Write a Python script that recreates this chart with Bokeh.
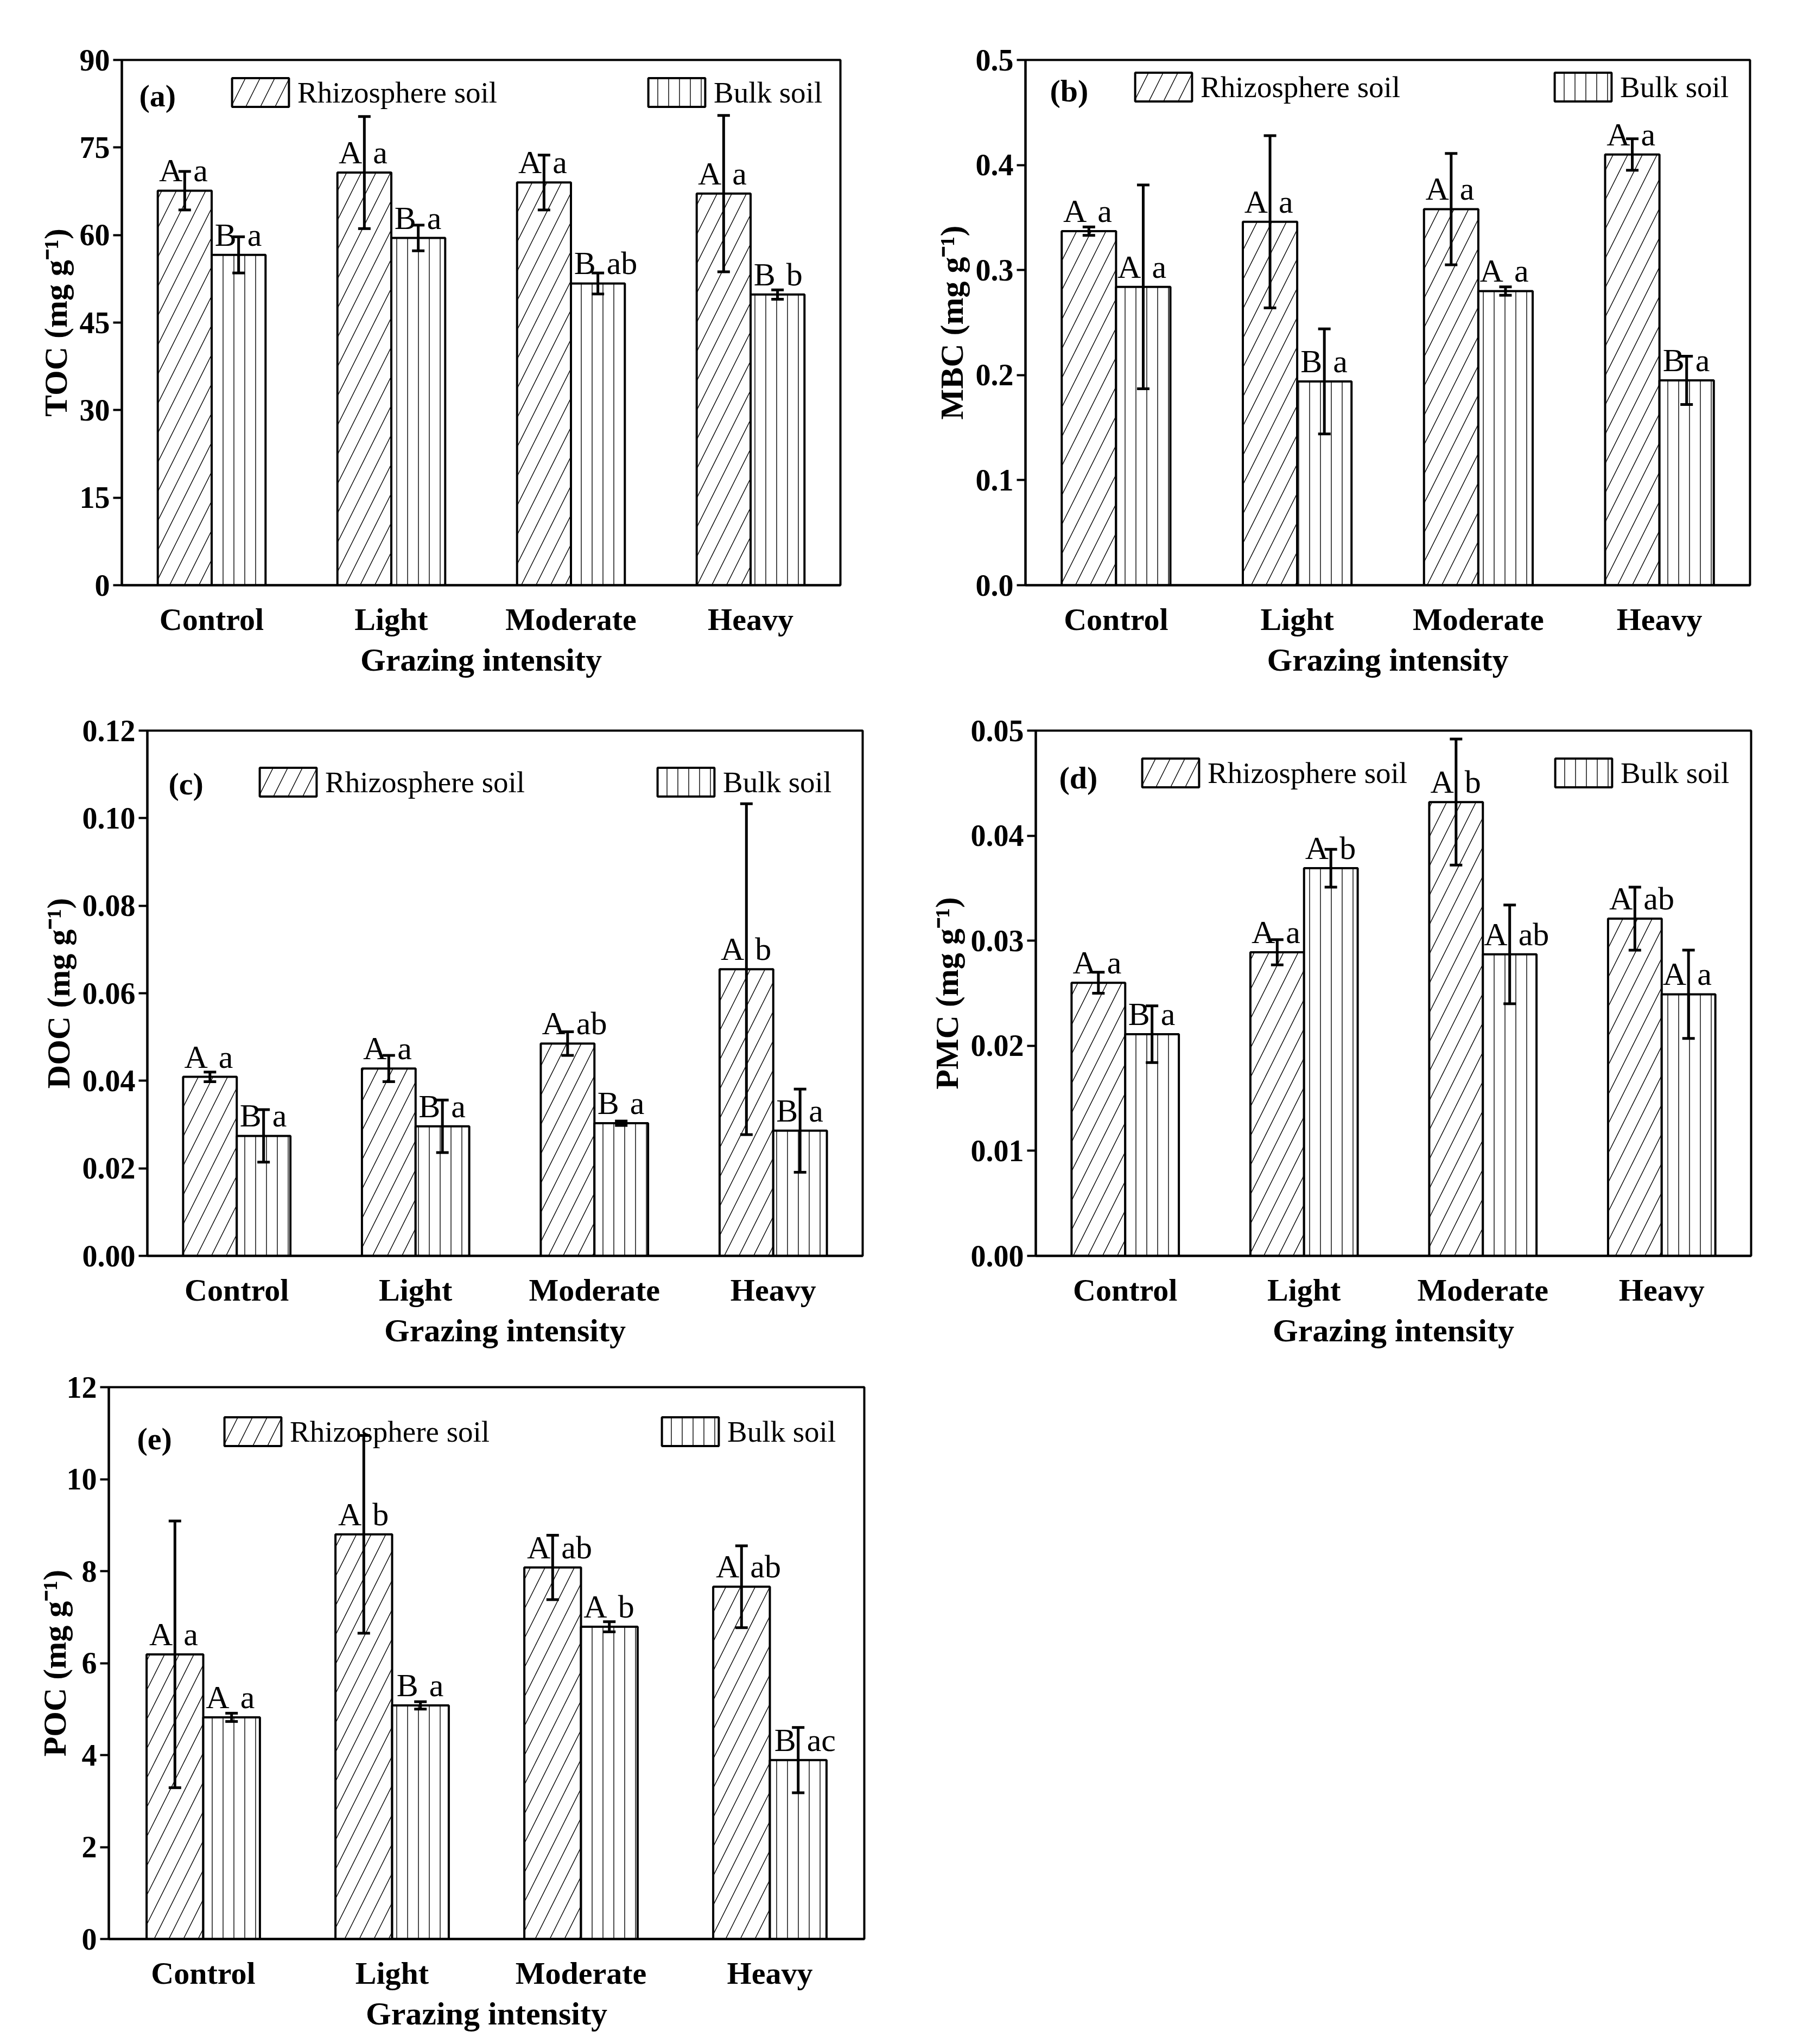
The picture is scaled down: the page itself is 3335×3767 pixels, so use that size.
from bokeh.plotting import figure
from bokeh.models import (ColumnDataSource, FactorRange, Whisker, TeeHead, Legend,
                          LegendItem, Label, FixedTicker)
from bokeh.transform import dodge
from bokeh.layouts import column, row
from bokeh.core.properties import value
from bokeh.embed import file_html
from bokeh.resources import INLINE

# ---------------- data ----------------
categories = ["Control", "Light", "Moderate", "Heavy"]
series_names = ["Rhizosphere soil", "Bulk soil"]
x_title = "Grazing intensity"

# (a) TOC
toc_rhizo = [67.6, 70.7, 69.0, 67.1]
toc_rhizo_err = [3.3, 9.6, 4.7, 13.4]
toc_bulk = [56.6, 59.5, 51.7, 49.8]
toc_bulk_err = [3.1, 2.2, 1.8, 0.8]
toc_rhizo_cap = ["A", "A", "A", "A"]
toc_rhizo_low = ["a", "a", "a", "a"]
toc_bulk_cap = ["B", "B", "B", "B"]
toc_bulk_low = ["a", "a", "ab", "b"]
toc_ticks = [0, 15, 30, 45, 60, 75, 90]
toc_tick_labels = ["0", "15", "30", "45", "60", "75", "90"]

# (b) MBC
mbc_rhizo = [0.337, 0.346, 0.358, 0.410]
mbc_rhizo_err = [0.004, 0.082, 0.053, 0.015]
mbc_bulk = [0.284, 0.194, 0.280, 0.195]
mbc_bulk_err = [0.097, 0.050, 0.004, 0.023]
mbc_rhizo_cap = ["A", "A", "A", "A"]
mbc_rhizo_low = ["a", "a", "a", "a"]
mbc_bulk_cap = ["A", "B", "A", "B"]
mbc_bulk_low = ["a", "a", "a", "a"]
mbc_ticks = [0.0, 0.1, 0.2, 0.3, 0.4, 0.5]
mbc_tick_labels = ["0.0", "0.1", "0.2", "0.3", "0.4", "0.5"]

# (c) DOC
doc_rhizo = [0.0409, 0.0428, 0.0485, 0.0655]
doc_rhizo_err = [0.0011, 0.0030, 0.0027, 0.0378]
doc_bulk = [0.0274, 0.0296, 0.0303, 0.0286]
doc_bulk_err = [0.0060, 0.0060, 0.0005, 0.0095]
doc_rhizo_cap = ["A", "A", "A", "A"]
doc_rhizo_low = ["a", "a", "ab", "b"]
doc_bulk_cap = ["B", "B", "B", "B"]
doc_bulk_low = ["a", "a", "a", "a"]
doc_ticks = [0.0, 0.02, 0.04, 0.06, 0.08, 0.10, 0.12]
doc_tick_labels = ["0.00", "0.02", "0.04", "0.06", "0.08", "0.10", "0.12"]

# (d) PMC
pmc_rhizo = [0.0260, 0.0289, 0.0432, 0.0321]
pmc_rhizo_err = [0.0010, 0.0012, 0.0060, 0.0030]
pmc_bulk = [0.0211, 0.0369, 0.0287, 0.0249]
pmc_bulk_err = [0.0027, 0.0018, 0.0047, 0.0042]
pmc_rhizo_cap = ["A", "A", "A", "A"]
pmc_rhizo_low = ["a", "a", "b", "ab"]
pmc_bulk_cap = ["B", "A", "A", "A"]
pmc_bulk_low = ["a", "b", "ab", "a"]
pmc_ticks = [0.0, 0.01, 0.02, 0.03, 0.04, 0.05]
pmc_tick_labels = ["0.00", "0.01", "0.02", "0.03", "0.04", "0.05"]

# (e) POC
poc_rhizo = [6.19, 8.80, 8.08, 7.66]
poc_rhizo_err = [2.90, 2.15, 0.70, 0.89]
poc_bulk = [4.82, 5.08, 6.79, 3.89]
poc_bulk_err = [0.09, 0.08, 0.11, 0.71]
poc_rhizo_cap = ["A", "A", "A", "A"]
poc_rhizo_low = ["a", "b", "ab", "ab"]
poc_bulk_cap = ["A", "B", "A", "B"]
poc_bulk_low = ["a", "a", "b", "ac"]
poc_ticks = [0, 2, 4, 6, 8, 10, 12]
poc_tick_labels = ["0", "2", "4", "6", "8", "10", "12"]

FONT = "Liberation Serif"


def make_panel(tag, ylab, rh, rh_err, bk, bk_err, rh_cap, rh_low, bk_cap, bk_low,
               ticks, tick_labels, geo):
    W, H, L, R, T, B = geo["size"]
    fw, fh = W - L - R, H - T - B
    src = ColumnDataSource(dict(
        cat=categories, rh=rh, bk=bk,
        rh_up=[m + e for m, e in zip(rh, rh_err)], rh_lo=[m - e for m, e in zip(rh, rh_err)],
        bk_up=[m + e for m, e in zip(bk, bk_err)], bk_lo=[m - e for m, e in zip(bk, bk_err)],
        rh_cap=rh_cap, rh_low=rh_low, bk_cap=bk_cap, bk_low=bk_low))

    p = figure(x_range=FactorRange(*categories), y_range=(ticks[0], ticks[-1]),
               width=W, height=H, output_backend="svg", toolbar_location=None,
               min_border_left=L, min_border_right=R, min_border_top=T, min_border_bottom=B)
    p.background_fill_color = "white"
    p.border_fill_color = "white"
    p.outline_line_color = "black"
    p.outline_line_width = 4
    p.xgrid.visible = False
    p.ygrid.visible = False
    p.x_range.range_padding = 0

    xr = dodge("cat", -0.15, range=p.x_range)
    xb = dodge("cat", 0.15, range=p.x_range)

    r1 = p.vbar(x=xr, top="rh", width=0.3, source=src, fill_color="white",
                line_color="black", line_width=4, hatch_pattern="/", hatch_scale=54,
                hatch_weight=1.4, hatch_color="black")
    r2 = p.vbar(x=xb, top="bk", width=0.3, source=src, fill_color="white",
                line_color="black", line_width=4, hatch_pattern="|", hatch_scale=20,
                hatch_weight=1.4, hatch_color="black")

    for xx, yy, cap, low in ((xr, "rh", "rh_cap", "rh_low"), (xb, "bk", "bk_cap", "bk_low")):
        p.text(x=xx, y=yy, text=cap, source=src, text_align="right", text_baseline="alphabetic",
               x_offset=-4, y_offset=-37, text_font=value(FONT), text_font_size=value("60px"),
               text_color="black")
        p.text(x=xx, y=yy, text=low, source=src, text_align="left", text_baseline="alphabetic",
               x_offset=16, y_offset=-37, text_font=value(FONT), text_font_size=value("60px"),
               text_color="black")

    for base, up, lo in ((xr, "rh_up", "rh_lo"), (xb, "bk_up", "bk_lo")):
        w = Whisker(base=base, upper=up, lower=lo, source=src, dimension="height",
                    level="overlay", line_width=5, line_color="black",
                    upper_head=TeeHead(size=23, line_width=5, line_color="black"),
                    lower_head=TeeHead(size=23, line_width=5, line_color="black"))
        p.add_layout(w)

    # axes
    p.yaxis.ticker = FixedTicker(ticks=ticks)
    p.yaxis.major_label_overrides = dict(zip(ticks, tick_labels))
    p.yaxis.minor_tick_line_color = None
    p.yaxis.major_tick_out = 16
    p.yaxis.major_tick_in = 0
    p.yaxis.major_tick_line_width = 4
    p.yaxis.major_label_standoff = 6
    p.yaxis.axis_label = ylab
    p.yaxis.axis_label_standoff = geo.get("ystand", 8)
    p.xaxis.major_tick_line_color = None
    p.xaxis.major_label_standoff = 24
    p.xaxis.axis_label = x_title
    p.xaxis.axis_label_standoff = 6
    for ax in (p.xaxis, p.yaxis):
        ax.axis_line_width = 4
        ax.axis_line_color = "black"
        ax.major_label_text_font = FONT
        ax.major_label_text_font_style = "bold"
        ax.major_label_text_color = "black"
        ax.axis_label_text_font = FONT
        ax.axis_label_text_font_style = "bold"
        ax.axis_label_text_color = "black"
        ax.axis_label_text_font_size = "60px"
    p.yaxis.major_label_text_font_size = "56px"
    p.xaxis.major_label_text_font_size = "58px"

    # legends (one item each, placed like the original); bokeh insets the glyph by 10%
    lx1, lx2r, ldy = geo["legend"]
    gw, gh = 131, 66
    for rend, name, lx in ((r1, series_names[0], lx1), (r2, series_names[1], fw - lx2r)):
        leg = Legend(items=[LegendItem(label=name, renderers=[rend])],
                     location=(lx - 13, fh - ldy - gh - 6), orientation="horizontal",
                     glyph_width=gw, glyph_height=gh, label_height=gh, padding=0, margin=0,
                     label_standoff=3, border_line_color=None, background_fill_alpha=0,
                     label_text_font=FONT, label_text_font_size="55px", label_text_color="black")
        p.add_layout(leg)

    ldx, ldy2 = geo["label"]
    p.add_layout(Label(x=ldx, y=fh - ldy2, x_units="screen", y_units="screen", text=tag,
                       text_font=FONT, text_font_style="bold", text_font_size="58px",
                       text_baseline="alphabetic", text_color="black"))
    return p


pa = make_panel("(a)", "TOC (mg g\u207b\u00b9)", toc_rhizo, toc_rhizo_err, toc_bulk, toc_bulk_err,
                toc_rhizo_cap, toc_rhizo_low, toc_bulk_cap, toc_bulk_low, toc_ticks, toc_tick_labels,
                dict(size=(1642, 1282, 224, 94, 110, 192), legend=(203, 354, 33), label=(32, 78)))
pb = make_panel("(b)", "MBC (mg g\u207b\u00b9)", mbc_rhizo, mbc_rhizo_err, mbc_bulk, mbc_bulk_err,
                mbc_rhizo_cap, mbc_rhizo_low, mbc_bulk_cap, mbc_bulk_low, mbc_ticks, mbc_tick_labels,
                dict(size=(1677, 1282, 247, 95, 94, 204), legend=(202, 360, 27), label=(45, 73)))
pc = make_panel("(c)", "DOC (mg g\u207b\u00b9)", doc_rhizo, doc_rhizo_err, doc_bulk, doc_bulk_err,
                doc_rhizo_cap, doc_rhizo_low, doc_bulk_cap, doc_bulk_low, doc_ticks, doc_tick_labels,
                dict(size=(1642, 1210, 271, 53, 61, 178), legend=(207, 378, 59), label=(39, 101)))
pd_ = make_panel("(d)", "PMC (mg g\u207b\u00b9)", pmc_rhizo, pmc_rhizo_err, pmc_bulk, pmc_bulk_err,
                 pmc_rhizo_cap, pmc_rhizo_low, pmc_bulk_cap, pmc_bulk_low, pmc_ticks, pmc_tick_labels,
                 dict(size=(1677, 1210, 266, 93, 64, 178), legend=(196, 361, 39), label=(43, 87)))
pe = make_panel("(e)", "POC (mg g\u207b\u00b9)", poc_rhizo, poc_rhizo_err, poc_bulk, poc_bulk_err,
                poc_rhizo_cap, poc_rhizo_low, poc_bulk_cap, poc_bulk_low, poc_ticks, poc_tick_labels,
                dict(size=(1642, 1259, 200, 50, 64, 178), legend=(213, 373, 43), label=(52, 95),
                     ystand=-14))

layout = column(row(pa, pb, spacing=0), row(pc, pd_, spacing=0), row(pe, spacing=0), spacing=0)

open("out.html", "w").write(file_html(layout, INLINE))
